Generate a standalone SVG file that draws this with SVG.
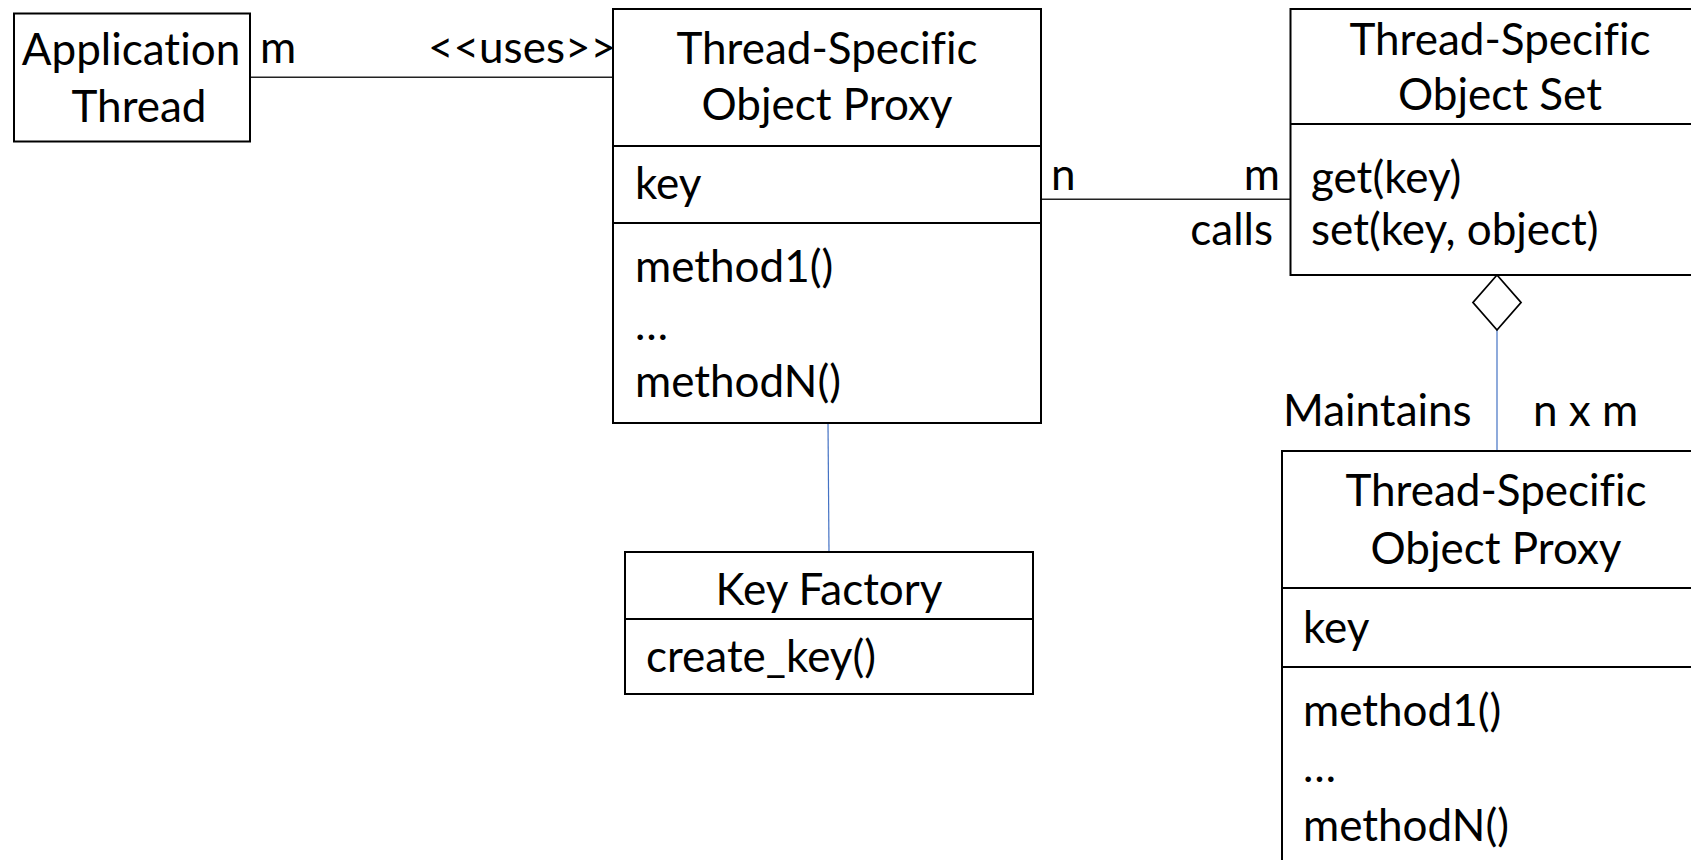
<svg xmlns="http://www.w3.org/2000/svg" width="1691" height="860" viewBox="0 0 1691 860">
<style>
text{font-family:Lato,"Open Sans","Liberation Sans",sans-serif;font-size:44px;fill:#000;font-variant-ligatures:none}
.box{fill:#fff;stroke:#000;stroke-width:2}
.div{stroke:#000;stroke-width:2;fill:none}
.mid{text-anchor:middle}
.end{text-anchor:end}
.conn{stroke:#222;stroke-width:1.5;fill:none}
.blue{stroke:#4472C4;stroke-width:1.2;fill:none}
.dia{fill:#fff;stroke:#000;stroke-width:1.8}
</style>
<rect width="1691" height="860" fill="#fff"/>
<g id="connectors">
<line class="conn" x1="250" y1="77.3" x2="613" y2="77.3"/>
<line class="conn" x1="1041" y1="199.3" x2="1290.5" y2="199.3"/>
<line class="blue" x1="828" y1="423" x2="829" y2="552"/>
<line class="blue" x1="1497" y1="330" x2="1497" y2="451"/>
<polygon class="dia" points="1497,275 1521,302.5 1497,330 1473,302.5"/>
<text x="260" y="63">m</text>
<text class="end" x="616" y="63">&lt;&lt;uses&gt;&gt;</text>
<text x="1051" y="190">n</text>
<text class="end" x="1280" y="190">m</text>
<text class="end" x="1273" y="245">calls</text>
<text x="1283" y="426">Maintains</text>
<text x="1533" y="426">n x m</text>
</g>
<g id="app-thread">
<rect class="box" x="14" y="13.5" width="236" height="128"/>
<text class="mid" x="131" y="65">Application</text>
<text class="mid" x="139" y="121.7">Thread</text>
</g>
<g id="proxy">
<rect class="box" x="613" y="9" width="428" height="414"/>
<line class="div" x1="613" y1="146" x2="1041" y2="146"/>
<line class="div" x1="613" y1="223" x2="1041" y2="223"/>
<text class="mid" x="827" y="64">Thread-Specific</text>
<text class="mid" x="827" y="120">Object Proxy</text>
<text x="635" y="199">key</text>
<text x="635" y="282">method1()</text>
<text x="635" y="340">…</text>
<text x="635" y="397">methodN()</text>
</g>
<g id="object-set">
<rect class="box" x="1290.5" y="9" width="420" height="266"/>
<line class="div" x1="1290.5" y1="124" x2="1711" y2="124"/>
<text class="mid" x="1500" y="55">Thread-Specific</text>
<text class="mid" x="1500" y="110">Object Set</text>
<text x="1311" y="193">get(key)</text>
<text x="1311" y="245">set(key, object)</text>
</g>
<g id="proxy-2">
<rect class="box" x="1282" y="451" width="428" height="415"/>
<line class="div" x1="1282" y1="588" x2="1711" y2="588"/>
<line class="div" x1="1282" y1="667" x2="1711" y2="667"/>
<text class="mid" x="1496" y="506">Thread-Specific</text>
<text class="mid" x="1496" y="564">Object Proxy</text>
<text x="1303" y="643">key</text>
<text x="1303" y="726">method1()</text>
<text x="1303" y="782">…</text>
<text x="1303" y="841">methodN()</text>
</g>
<g id="key-factory">
<rect class="box" x="625" y="552" width="408" height="142"/>
<line class="div" x1="625" y1="619" x2="1033" y2="619"/>
<text class="mid" x="829" y="605">Key Factory</text>
<text x="646" y="672">create_key()</text>
</g>
</svg>
